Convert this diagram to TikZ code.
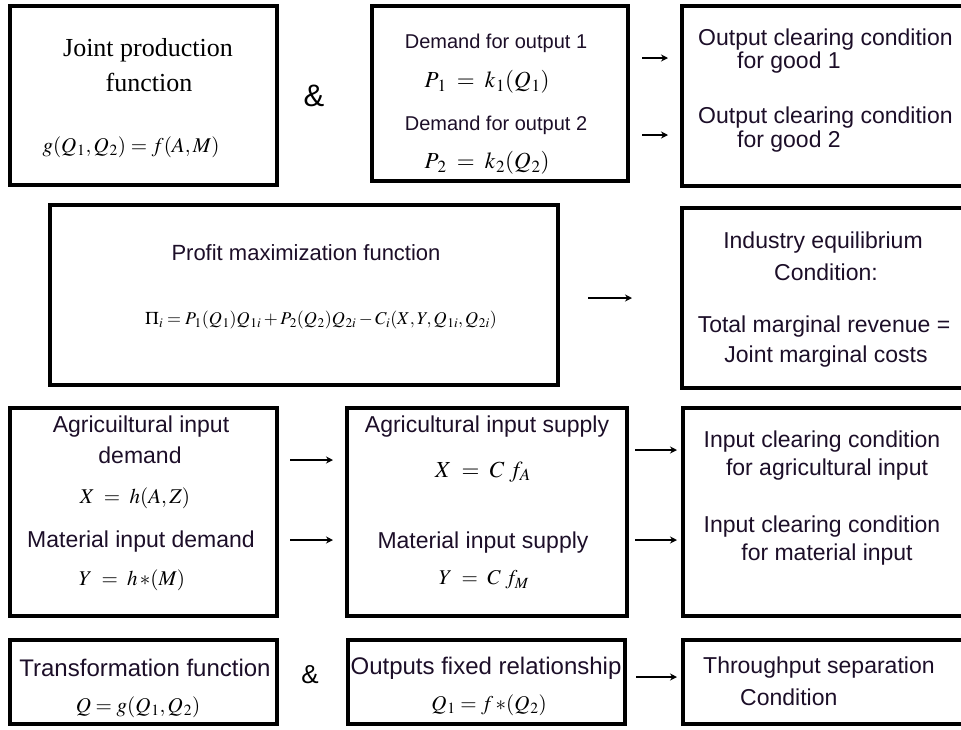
\documentclass[tikz,border=0pt]{standalone}
\usepackage{mathptmx}
\usepackage[no-math]{fontspec}
\setmainfont{Liberation Sans}
\newfontfamily\timesf{Liberation Serif}
\usetikzlibrary{arrows.meta}
\definecolor{txt}{RGB}{28,14,40}
\tikzset{
  box/.style={draw=black, line width=3.2pt, inner sep=0pt, outer sep=0pt},
  lbl/.style={inner sep=0pt, text=txt, font=\fontsize{23}{27}\selectfont},
  lblm/.style={inner sep=0pt, text=txt, font=\fontsize{22}{26}\selectfont},
  lbls/.style={inner sep=0pt, text=txt, font=\fontsize{20}{24}\selectfont},
  lbll/.style={inner sep=0pt, text=txt, font=\fontsize{24}{28}\selectfont},
  tms/.style={inner sep=0pt, text=black, font=\timesf\fontsize{26}{30}\selectfont},
  eq/.style={inner sep=0pt, text=black, font=\fontsize{21}{24}\selectfont},
  eqb/.style={inner sep=0pt, text=black, font=\fontsize{23}{26}\selectfont},
  eqs/.style={inner sep=0pt, text=black, font=\fontsize{18}{22}\selectfont},
  amp/.style={inner sep=0pt, text=black, font=\fontsize{31}{36}\selectfont},
  arr/.style={line width=2pt, -{Stealth[length=7pt,width=7pt]}},
}
\begin{document}
\begin{tikzpicture}[x=1pt,y=-1pt]
\useasboundingbox (0,0) rectangle (961,729);
\begin{scope}
\clip (0,0) rectangle (961,729);
% boxes
\node[box, minimum width=267, minimum height=179] (jp)  at (143.5,95.5) {};
\node[box, minimum width=256, minimum height=175] (dem) at (500,93.5) {};
\node[box, minimum width=293, minimum height=180] (occ) at (828.5,96) {};
\node[box, minimum width=508, minimum height=180] (prof) at (304,295) {};
\node[box, minimum width=293, minimum height=180] (ieq) at (828.5,298) {};
\node[box, minimum width=267, minimum height=208] (agd) at (143.5,512) {};
\node[box, minimum width=280, minimum height=208] (sup) at (487,512) {};
\node[box, minimum width=292, minimum height=208] (icc) at (829,512) {};
\node[box, minimum width=267, minimum height=84] (trf) at (143.5,682) {};
\node[box, minimum width=277, minimum height=84] (ofr) at (486.5,682) {};
\node[box, minimum width=292, minimum height=84] (tsc) at (829,682) {};
\end{scope}

% row 1
\node[tms] (jp1) at (148,50) {Joint production};
\node[tms] (jp2) at (149,82) {function};
\node[eq] (jpf) at (131,147) {$g(Q_{\mkern1mu 1},Q_{\mkern1mu 2})=f(A,M)$};
\node[amp] (amp1) at (314,96) {\&};
\node[lbls] (d1) at (496,43) {Demand for output 1};
\node[eqb] (d1f) at (487,82) {$P_{\mkern2mu 1} \;=\; k_{\mkern1mu 1}(Q_{\mkern1mu 1})$};
\node[lbls] (d2) at (496,125) {Demand for output 2};
\node[eqb] (d2f) at (487,163) {$P_{\mkern2mu 2} \;=\; k_{\mkern1mu 2}(Q_{\mkern1mu 2})$};
\node[lbl, anchor=west] (o1) at (698,40) {Output clearing condition};
\node[lbl, anchor=west] (o1b) at (737,63) {for good 1};
\node[lbl, anchor=west] (o2) at (698,118) {Output clearing condition};
\node[lbl, anchor=west] (o2b) at (737,142) {for good 2};

% row 2
\node[lblm] (p1) at (306,253) {Profit maximization function};
\node[eqs] (pf) at (321,320) {$\Pi_i = P_{\mkern1mu 1}(Q_{\mkern1mu 1})Q_{\mkern1mu 1i} + P_{\mkern1mu 2}(Q_{\mkern1mu 2})Q_{\mkern1mu 2i} - C_i(X,Y,Q_{\mkern1mu 1i},Q_{\mkern1mu 2i})$};
\node[lbl] (i1) at (823,243) {Industry equilibrium};
\node[lbl] (i2) at (826,272) {Condition:};
\node[lbl] (i3) at (824,327) {Total marginal revenue =};
\node[lbl] (i4) at (826,357) {Joint marginal costs};

% row 3
\node[lbl] (a1) at (141,427) {Agricuiltural input};
\node[lbl] (a2) at (140,455) {demand};
\node[eq] (af) at (135,498) {$X \;=\; h(A,Z)$};
\node[lbl] (a3) at (141,542) {Material input demand};
\node[eq] (af2) at (132,580) {$Y \;=\; h\,{*}(M)$};
\node[lbl] (s1) at (487,427) {Agricultural input supply};
\node[eqb] (sf1) at (483,472) {$X \;=\; C\;f_A$};
\node[lbl] (s2) at (483,543) {Material input supply};
\node[eq] (sf2) at (484,580) {$Y \;=\; C\;f_M$};
\node[lbl] (c1) at (822,442) {Input clearing condition};
\node[lbl] (c2) at (827,470) {for agricultural input};
\node[lbl] (c3) at (822,527) {Input clearing condition};
\node[lbl] (c4) at (827,555) {for material input};

% row 4
\node[lbll] (t1) at (145,668) {Transformation function};
\node[eq] (tf) at (138,707) {$Q = g(Q_{\mkern1mu 1},Q_{\mkern1mu 2})$};
\node[amp, font=\fontsize{26}{30}\selectfont] (amp2) at (310,675) {\&};
\node[lbll] (f1) at (486,668) {Outputs fixed relationship};
\node[eq] (ff) at (489,705) {$Q_{\mkern1mu 1} = f\,{*}(Q_{\mkern1mu 2})$};
\node[lbl, anchor=west] (th1) at (703,668) {Throughput separation};
\node[lbl, anchor=west] (th2) at (740,697) {Condition};

% connector ends
\coordinate (e1s) at (642,58);  \coordinate (e1e) at (668,58);
\coordinate (e2s) at (642,135); \coordinate (e2e) at (668,135);
\coordinate (e3s) at (588,298); \coordinate (e3e) at (632,298);
\coordinate (e4s) at (290,460); \coordinate (e4e) at (333,460);
\coordinate (e5s) at (290,540); \coordinate (e5e) at (333,540);
\coordinate (e6s) at (635,450); \coordinate (e6e) at (677,450);
\coordinate (e7s) at (635,540); \coordinate (e7e) at (677,540);
\coordinate (e8s) at (636,677); \coordinate (e8e) at (677,677);
\draw[arr] (e1s) -- (e1e);
\draw[arr] (e2s) -- (e2e);
\draw[arr] (e3s) -- (e3e);
\draw[arr] (e4s) -- (e4e);
\draw[arr] (e5s) -- (e5e);
\draw[arr] (e6s) -- (e6e);
\draw[arr] (e7s) -- (e7e);
\draw[arr] (e8s) -- (e8e);
\end{tikzpicture}
\end{document}
